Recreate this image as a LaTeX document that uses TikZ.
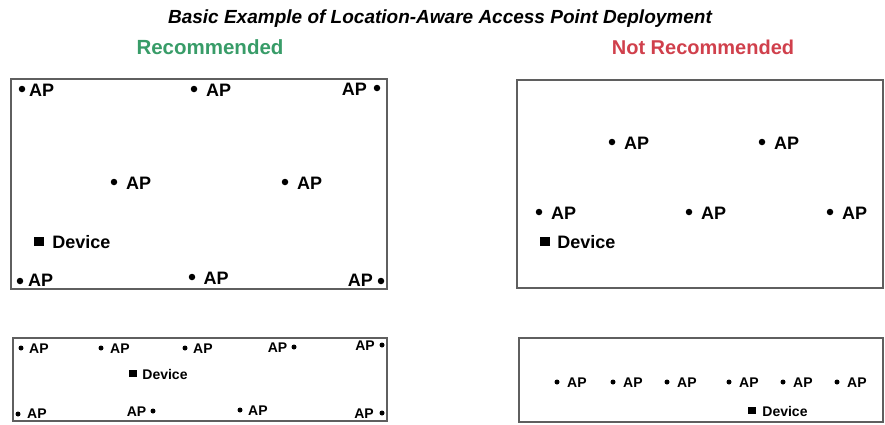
\documentclass[tikz,border=0pt]{standalone}
\usepackage{fontspec}
\setmainfont{Liberation Sans}
\definecolor{recgreen}{RGB}{56,156,104}
\definecolor{notred}{RGB}{208,64,76}
\definecolor{framegray}{RGB}{95,95,95}
\begin{document}
\begin{tikzpicture}[x=1pt,y=-1pt,
  frame/.style={draw=framegray, line width=1.3pt},
  bigdot/.style={circle, fill=black, inner sep=0pt, minimum size=6.5pt},
  smalldot/.style={circle, fill=black, inner sep=0pt, minimum size=5pt},
  big/.style={font=\fontsize{18}{20}\selectfont\bfseries, inner sep=0pt},
  small/.style={font=\fontsize{14}{16}\selectfont\bfseries, inner sep=0pt},
  bigsq/.style={fill=black, inner sep=0pt, minimum width=10pt, minimum height=9pt},
  smallsq/.style={fill=black, inner sep=0pt, minimum width=8pt, minimum height=7pt},
]
\useasboundingbox (0,0) rectangle (885,424);

% titles
\node[anchor=base, inner sep=0pt, font=\fontsize{19}{22}\selectfont\bfseries\itshape] (title) at (440,23)
  {Basic Example of Location-Aware Access Point Deployment};
\node[anchor=base, inner sep=0pt, text=recgreen, font=\fontsize{20.5}{24}\selectfont\bfseries] (rec) at (210,54) {Recommended};
\node[anchor=base, inner sep=0pt, text=notred, font=\fontsize{20}{24}\selectfont\bfseries] (notrec) at (703,54) {Not Recommended};

% frames
\draw[frame] (11,79) rectangle (387,289);
\draw[frame] (517,80) rectangle (883,288);
\draw[frame] (13,338) rectangle (387,421);
\draw[frame] (519,338) rectangle (883,422);

% box 1: recommended
\node[bigdot] (a11) at (22,89) {};
\node[big, anchor=west] (a11t) at ([xshift=7pt,yshift=-1pt]a11.center) {AP};
\node[bigdot] (a12) at (194,89) {};
\node[big, anchor=west] (a12t) at ([xshift=12pt,yshift=-1pt]a12.center) {AP};
\node[bigdot] (a13) at (377,88) {};
\node[big, anchor=east] (a13t) at ([xshift=-10pt,yshift=-1pt]a13.center) {AP};
\node[bigdot] (a14) at (114,182) {};
\node[big, anchor=west] (a14t) at ([xshift=12pt,yshift=-1pt]a14.center) {AP};
\node[bigdot] (a15) at (285,182) {};
\node[big, anchor=west] (a15t) at ([xshift=12pt,yshift=-1pt]a15.center) {AP};
\node[bigdot] (a16) at (20,281) {};
\node[big, anchor=west] (a16t) at ([xshift=8pt,yshift=1pt]a16.center) {AP};
\node[bigdot] (a17) at (192,277) {};
\node[big, anchor=west] (a17t) at ([xshift=11.5pt,yshift=-1pt]a17.center) {AP};
\node[bigdot] (a18) at (381,281) {};
\node[big, anchor=east] (a18t) at ([xshift=-8pt,yshift=1pt]a18.center) {AP};
\node[bigsq] (d1) at (39,241) {};
\node[big, anchor=west] (d1t) at ([xshift=8pt,yshift=-1pt]d1.east) {Device};

% box 2: not recommended
\node[bigdot] (a21) at (612,142) {};
\node[big, anchor=west] (a21t) at ([xshift=12pt,yshift=-1pt]a21.center) {AP};
\node[bigdot] (a22) at (762,142) {};
\node[big, anchor=west] (a22t) at ([xshift=12pt,yshift=-1pt]a22.center) {AP};
\node[bigdot] (a23) at (539,212) {};
\node[big, anchor=west] (a23t) at ([xshift=12pt,yshift=-1pt]a23.center) {AP};
\node[bigdot] (a24) at (689,212) {};
\node[big, anchor=west] (a24t) at ([xshift=12pt,yshift=-1pt]a24.center) {AP};
\node[bigdot] (a25) at (830,212) {};
\node[big, anchor=west] (a25t) at ([xshift=12pt,yshift=-1pt]a25.center) {AP};
\node[bigsq] (d2) at (545,241) {};
\node[big, anchor=west] (d2t) at ([xshift=7pt,yshift=-1pt]d2.east) {Device};

% box 3: recommended
\node[smalldot] (b1) at (21,348) {};
\node[small, anchor=west] (b1t) at ([xshift=8pt,yshift=-1pt]b1.center) {AP};
\node[smalldot] (b2) at (101,348) {};
\node[small, anchor=west] (b2t) at ([xshift=9pt,yshift=-1pt]b2.center) {AP};
\node[smalldot] (b3) at (185,348) {};
\node[small, anchor=west] (b3t) at ([xshift=8pt,yshift=-1pt]b3.center) {AP};
\node[smalldot] (b4) at (294,347) {};
\node[small, anchor=east] (b4t) at ([xshift=-6.5pt,yshift=-1pt]b4.center) {AP};
\node[smalldot] (b5) at (382,345) {};
\node[small, anchor=east] (b5t) at ([xshift=-7pt,yshift=-1pt]b5.center) {AP};
\node[smalldot] (b6) at (18,414) {};
\node[small, anchor=west] (b6t) at ([xshift=9pt,yshift=0pt]b6.center) {AP};
\node[smalldot] (b7) at (153,411) {};
\node[small, anchor=east] (b7t) at ([xshift=-6.5pt,yshift=-1pt]b7.center) {AP};
\node[smalldot] (b8) at (240,410) {};
\node[small, anchor=west] (b8t) at ([xshift=8pt,yshift=-1pt]b8.center) {AP};
\node[smalldot] (b9) at (382,413) {};
\node[small, anchor=east] (b9t) at ([xshift=-8pt,yshift=-1pt]b9.center) {AP};
\node[smallsq] (d3) at (133,373) {};
\node[small, anchor=west] (d3t) at ([xshift=5pt,yshift=-1pt]d3.east) {Device};

% box 4: not recommended
\node[smalldot] (c1) at (557,382) {};
\node[small, anchor=west] (c1t) at ([xshift=10pt,yshift=-1pt]c1.center) {AP};
\node[smalldot] (c2) at (613,382) {};
\node[small, anchor=west] (c2t) at ([xshift=10pt,yshift=-1pt]c2.center) {AP};
\node[smalldot] (c3) at (667,382) {};
\node[small, anchor=west] (c3t) at ([xshift=10pt,yshift=-1pt]c3.center) {AP};
\node[smalldot] (c4) at (729,382) {};
\node[small, anchor=west] (c4t) at ([xshift=10pt,yshift=-1pt]c4.center) {AP};
\node[smalldot] (c5) at (783,382) {};
\node[small, anchor=west] (c5t) at ([xshift=10pt,yshift=-1pt]c5.center) {AP};
\node[smalldot] (c6) at (837,382) {};
\node[small, anchor=west] (c6t) at ([xshift=10pt,yshift=-1pt]c6.center) {AP};
\node[smallsq] (d4) at (752,410) {};
\node[small, anchor=west] (d4t) at ([xshift=6pt,yshift=-1pt]d4.east) {Device};
\end{tikzpicture}
\end{document}
